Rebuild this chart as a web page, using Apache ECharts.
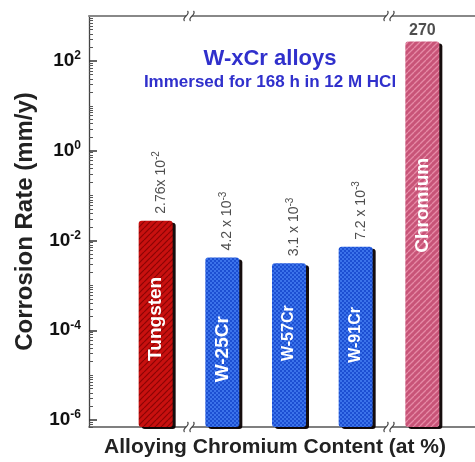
<!DOCTYPE html>
<html><head><meta charset="utf-8">
<script src="https://cdn.jsdelivr.net/npm/echarts@6/dist/echarts.min.js"></script>
<style>html,body{margin:0;padding:0;background:#fff}#c{width:475px;height:462px}</style>
</head><body><div id="c"></div>
<script>
const categories = ['Tungsten', 'W-25Cr', 'W-57Cr', 'W-91Cr', 'Chromium'];
const rates = [2.76e-2, 4.2e-3, 3.1e-3, 7.2e-3, 270];
const rateMantissa = ['2.76x 10', '4.2 x 10', '3.1 x 10', '7.2 x 10', '270'];
const rateExponent = ['-2', '-3', '-3', '-3', ''];
const majorTicks = [1e-6, 1e-4, 1e-2, 1, 100];
const yMin = 7e-7, yMax = 1000;

const FONT = '"Liberation Sans", Arial, sans-serif';

function hatch(base, line, w) {
  const c = document.createElement('canvas'); c.width = 6; c.height = 6;
  const g = c.getContext('2d');
  g.fillStyle = base; g.fillRect(0, 0, 6, 6);
  g.strokeStyle = line; g.lineWidth = w;
  for (let k = -6; k <= 12; k += 6) { g.beginPath(); g.moveTo(k, 6); g.lineTo(k + 6, 0); g.stroke(); }
  return { image: c, repeat: 'repeat' };
}
function checker(a, b) {
  const c = document.createElement('canvas'); c.width = 4; c.height = 4;
  const g = c.getContext('2d');
  g.fillStyle = a; g.fillRect(0, 0, 4, 4);
  g.fillStyle = b; g.fillRect(0, 0, 2, 2); g.fillRect(2, 2, 2, 2);
  return { image: c, repeat: 'repeat' };
}
const fills = [
  hatch('#c8100f', '#8a0505', 1.2),
  checker('#1c4fd2', '#3b73ea'),
  checker('#1c4fd2', '#3b73ea'),
  checker('#1c4fd2', '#3b73ea'),
  hatch('#c85478', '#e68aa6', 1.3)
];
// vertical shift (screen px, + = down) of the names written inside the bars
const innerShift = [-5, 7, -12, -2, -29];
const innerSizes = [19, 19, 16, 16, 19];

const barData = categories.map((c, i) => ({
  value: [i + 1, rates[i]],
  itemStyle: { color: fills[i] },
  label: { offset: [-innerShift[i], 0], fontSize: innerSizes[i] }
}));
const topData = categories.map((c, i) => {
  const plain = rateExponent[i] === '';
  return {
    value: [i + 1, rates[i]],
    label: plain ? {
      rotate: 0, align: 'center', verticalAlign: 'bottom', offset: [0, 0], distance: 3,
      formatter: '{p|' + rateMantissa[i] + '}'
    } : {
      formatter: '{m|' + rateMantissa[i] + '}{e|' + rateExponent[i] + '}'
    }
  };
});

const chart = echarts.init(document.getElementById('c'), null, { renderer: 'canvas' });

const option = {
  animation: false,
  backgroundColor: '#fff',
  textStyle: { fontFamily: FONT },
  title: {
    text: 'W-xCr alloys',
    subtext: 'Immersed for 168 h in 12 M HCl',
    left: 265, top: 43, textAlign: 'center', itemGap: 4,
    textStyle: { color: '#3030cc', fontSize: 22, fontWeight: 'bold', fontFamily: FONT },
    subtextStyle: { color: '#3030cc', fontSize: 17, fontWeight: 'bold', fontFamily: FONT }
  },
  grid: { left: 89, top: 16, bottom: 35, right: 0 },
  xAxis: [{
    type: 'value', min: 0, max: 5.79,
    axisLine: { show: true, onZero: false, lineStyle: { color: '#555', width: 1.5 } },
    axisTick: { show: false }, axisLabel: { show: false }, splitLine: { show: false }
  }, {
    type: 'value', min: 0, max: 5.79, position: 'top',
    axisLine: { show: true, onZero: false, lineStyle: { color: '#888', width: 2 } },
    axisTick: { show: false }, axisLabel: { show: false }, splitLine: { show: false }
  }],
  yAxis: [{
    type: 'log', min: yMin, max: yMax, startValue: yMin,
    name: 'Corrosion Rate (mm/y)', nameLocation: 'middle', nameGap: 52,
    nameTextStyle: { fontSize: 24, fontWeight: 'bold', color: '#222', fontFamily: FONT },
    axisLine: { show: true, lineStyle: { color: '#444', width: 1.3 } },
    axisTick: { show: true, inside: true, length: 8, customValues: majorTicks, lineStyle: { color: '#333', width: 1.5 } },
    axisLabel: {
      customValues: majorTicks, margin: 8,
      formatter: v => '{b|10}{s|' + Math.round(Math.log10(v)) + '}',
      rich: {
        b: { fontSize: 19, fontWeight: 'bold', color: '#111', fontFamily: FONT },
        s: { fontSize: 12, fontWeight: 'bold', color: '#111', verticalAlign: 'top', padding: [0, 0, 10, 0], fontFamily: FONT }
      }
    },
    splitLine: { show: false }
  }, {
    type: 'log', min: yMin, max: yMax, position: 'left',
    axisLine: { show: false },
    axisTick: {
      show: true, inside: true, length: 4, lineStyle: { color: '#555', width: 1 },
      customValues: (function () {
        const out = [];
        for (let p = -7; p <= 2; p++) for (let m = 1; m <= 9; m++) {
          const v = m * Math.pow(10, p);
          if (v >= yMin && v <= yMax && !(m === 1 && p % 2 === 0)) out.push(v);
        }
        return out;
      })()
    },
    axisLabel: { show: false }, splitLine: { show: false }
  }],
  series: [{
    type: 'bar', data: barData, barWidth: 34, xAxisIndex: 0, yAxisIndex: 0,
    itemStyle: { borderRadius: 3, shadowColor: 'rgba(10,0,0,0.95)', shadowOffsetX: 3, shadowOffsetY: 2, shadowBlur: 0 },
    label: {
      show: true, position: 'inside', rotate: 90,
      formatter: p => categories[p.dataIndex],
      color: '#fff', fontWeight: 'bold', fontSize: 15, fontFamily: FONT
    }
  }, {
    type: 'scatter', data: topData, symbolSize: 0, xAxisIndex: 0, yAxisIndex: 0,
    label: {
      show: true, position: 'top', rotate: 90, align: 'left', verticalAlign: 'middle',
      distance: 7, offset: [0, 5], color: '#222',
      rich: {
        m: { fontSize: 14, color: '#222', fontFamily: FONT },
        e: { fontSize: 10, color: '#222', verticalAlign: 'top', padding: [0, 0, 8, 0], fontFamily: FONT },
        p: { fontSize: 16, fontWeight: 'bold', color: '#222', fontFamily: FONT }
      }
    }
  }]
};
chart.setOption(option);

function breakMark(cx, cy) {
  const curve = dx => ({
    type: 'bezierCurve',
    shape: { x1: cx + dx - 1.5, y1: cy + 5, cpx1: cx + dx - 5, cpy1: cy + 1, cpx2: cx + dx + 5, cpy2: cy - 1, x2: cx + dx + 1.5, y2: cy - 5 },
    style: { stroke: '#444', lineWidth: 1.2, fill: null }, z: 101
  });
  return [
    { type: 'rect', shape: { x: cx - 3, y: cy - 2, width: 6, height: 4 }, style: { fill: '#fff' }, z: 100 },
    curve(-3), curve(3)
  ];
}
const xs = [1.5, 4.5].map(v => chart.convertToPixel({ xAxisIndex: 0 }, v));
const yTop = 16, yBot = 462 - 35;
let g = [];
xs.forEach(x => { g = g.concat(breakMark(x, yTop), breakMark(x, yBot)); });
g.push({
  type: 'text', x: 275, y: 447, z: 100,
  style: { text: 'Alloying Chromium Content (at %)', font: 'bold 21px ' + FONT, fill: '#222', align: 'center', verticalAlign: 'middle' }
});
chart.setOption({ graphic: g });
</script></body></html>
